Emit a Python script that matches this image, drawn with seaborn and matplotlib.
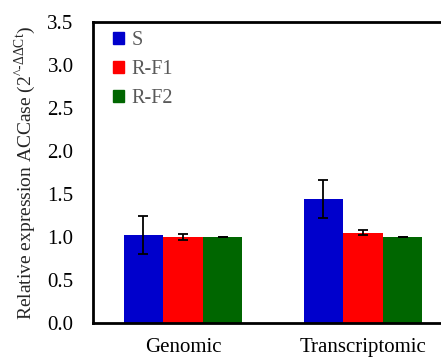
import numpy as np
import pandas as pd
import matplotlib
matplotlib.use("Agg")
import matplotlib.pyplot as plt
import seaborn as sns
from matplotlib.patches import Patch

# data
categories = ["Genomic", "Transcriptomic"]
groups = ["S", "R-F1", "R-F2"]
values_s = [1.02, 1.44]
values_rf1 = [1.00, 1.05]
values_rf2 = [1.00, 1.00]
err_s = [0.22, 0.22]
err_rf1 = [0.03, 0.03]
err_rf2 = [0.005, 0.005]
colors = ["#0000CC", "#FF0000", "#006600"]

df = pd.DataFrame({
    "category": categories * 3,
    "group": ["S"] * 2 + ["R-F1"] * 2 + ["R-F2"] * 2,
    "value": values_s + values_rf1 + values_rf2,
    "err": err_s + err_rf1 + err_rf2,
})

sns.set_style("white")
plt.rcParams["font.family"] = ["Liberation Serif", "DejaVu Serif"]
plt.rcParams["mathtext.fontset"] = "custom"
plt.rcParams["mathtext.rm"] = "Liberation Serif"

fig = plt.figure(figsize=(4.41, 3.59), dpi=100)
ax = fig.add_axes([0.211, 0.1003, 0.816, 0.8384])

sns.barplot(data=df, x="category", y="value", hue="group", hue_order=groups,
            palette=colors, width=0.66, gap=0, errorbar=None, saturation=1,
            linewidth=0, ax=ax, legend=False)

# error bars at bar centres
for cont, grp in zip(ax.containers, groups):
    sub = df[df["group"] == grp]
    xs = [p.get_x() + p.get_width() / 2 for p in cont.patches]
    ax.errorbar(xs, sub["value"].values, yerr=sub["err"].values, fmt="none",
                ecolor="black", elinewidth=1.3, capsize=3.5, capthick=1.3)

ax.set_xlim(-0.5, 1.5)
ax.set_ylim(0, 3.5)
ax.set_yticks(np.arange(0, 3.51, 0.5))
ax.set_yticklabels([f"{v:.1f}" for v in np.arange(0, 3.51, 0.5)])
ax.tick_params(axis="both", length=0, labelsize=15, colors="black")
ax.tick_params(axis="y", pad=14)
ax.tick_params(axis="x", pad=11)
ax.set_xlabel("")
ax.set_ylabel(r"Relative expression ACCase (2$^{\text{^-ΔΔCt}}$)", fontsize=14, labelpad=7)

for s in ax.spines.values():
    s.set_color("black")
    s.set_linewidth(2)

handles = [Patch(color=c, label=g) for c, g in zip(colors, groups)]
leg = ax.legend(handles=handles, loc="upper left", bbox_to_anchor=(0.022, 1.01),
                frameon=False, fontsize=14.5,
                handlelength=0.55, handleheight=0.55, handletextpad=0.35,
                labelspacing=0.5, borderaxespad=0.2, borderpad=0.4)
for t in leg.get_texts():
    t.set_color("#595959")

fig.savefig("out.png", dpi=100)
